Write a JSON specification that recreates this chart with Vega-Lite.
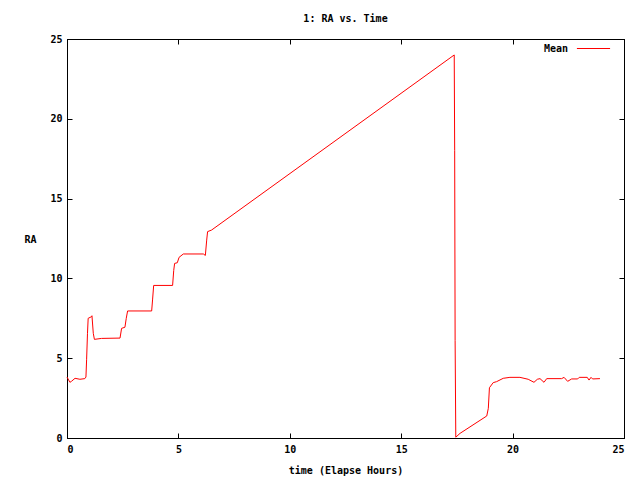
{
  "$schema": "https://vega.github.io/schema/vega-lite/v6.json",
  "width": 557,
  "height": 399,
  "autosize": {"type": "none"},
  "padding": {"left": 67, "top": 39, "right": 16, "bottom": 42},
  "background": "white",
  "title": {"text": "1: RA vs. Time", "font": "DejaVu Sans Mono", "fontSize": 10, "fontWeight": "bold", "color": "black", "offset": 7},
  "config": {
    "view": {"stroke": "black", "strokeWidth": 1},
    "axis": {"grid": false, "labelFont": "DejaVu Sans Mono", "labelFontSize": 10, "labelFontWeight": "bold", "labelColor": "black", "titleFont": "DejaVu Sans Mono", "titleFontSize": 10, "titleFontWeight": "bold", "titleColor": "black", "domainColor": "black", "tickColor": "black", "tickSize": -5, "labelPadding": 11}
  },
  "data": {"values": [
    {"t": 0.0, "ra": 3.82, "s": "Mean"},
    {"t": 0.13, "ra": 3.49, "s": "Mean"},
    {"t": 0.2, "ra": 3.55, "s": "Mean"},
    {"t": 0.36, "ra": 3.74, "s": "Mean"},
    {"t": 0.58, "ra": 3.68, "s": "Mean"},
    {"t": 0.8, "ra": 3.72, "s": "Mean"},
    {"t": 0.85, "ra": 3.82, "s": "Mean"},
    {"t": 0.88, "ra": 4.9, "s": "Mean"},
    {"t": 0.92, "ra": 6.56, "s": "Mean"},
    {"t": 0.95, "ra": 7.5, "s": "Mean"},
    {"t": 1.1, "ra": 7.6, "s": "Mean"},
    {"t": 1.12, "ra": 7.66, "s": "Mean"},
    {"t": 1.18, "ra": 6.56, "s": "Mean"},
    {"t": 1.23, "ra": 6.18, "s": "Mean"},
    {"t": 1.55, "ra": 6.24, "s": "Mean"},
    {"t": 2.38, "ra": 6.26, "s": "Mean"},
    {"t": 2.45, "ra": 6.87, "s": "Mean"},
    {"t": 2.6, "ra": 6.94, "s": "Mean"},
    {"t": 2.66, "ra": 7.5, "s": "Mean"},
    {"t": 2.72, "ra": 7.96, "s": "Mean"},
    {"t": 3.8, "ra": 7.96, "s": "Mean"},
    {"t": 3.84, "ra": 8.65, "s": "Mean"},
    {"t": 3.89, "ra": 9.56, "s": "Mean"},
    {"t": 4.74, "ra": 9.56, "s": "Mean"},
    {"t": 4.79, "ra": 10.5, "s": "Mean"},
    {"t": 4.83, "ra": 10.94, "s": "Mean"},
    {"t": 4.95, "ra": 10.98, "s": "Mean"},
    {"t": 5.03, "ra": 11.32, "s": "Mean"},
    {"t": 5.22, "ra": 11.53, "s": "Mean"},
    {"t": 6.12, "ra": 11.53, "s": "Mean"},
    {"t": 6.21, "ra": 11.44, "s": "Mean"},
    {"t": 6.27, "ra": 12.4, "s": "Mean"},
    {"t": 6.31, "ra": 12.93, "s": "Mean"},
    {"t": 6.49, "ra": 13.03, "s": "Mean"},
    {"t": 17.38, "ra": 24.0, "s": "Mean"},
    {"t": 17.4, "ra": 18.0, "s": "Mean"},
    {"t": 17.42, "ra": 6.1, "s": "Mean"},
    {"t": 17.45, "ra": 0.05, "s": "Mean"},
    {"t": 17.64, "ra": 0.29, "s": "Mean"},
    {"t": 18.84, "ra": 1.38, "s": "Mean"},
    {"t": 18.91, "ra": 1.86, "s": "Mean"},
    {"t": 18.96, "ra": 3.15, "s": "Mean"},
    {"t": 19.13, "ra": 3.47, "s": "Mean"},
    {"t": 19.28, "ra": 3.53, "s": "Mean"},
    {"t": 19.58, "ra": 3.74, "s": "Mean"},
    {"t": 19.88, "ra": 3.8, "s": "Mean"},
    {"t": 20.33, "ra": 3.8, "s": "Mean"},
    {"t": 20.7, "ra": 3.68, "s": "Mean"},
    {"t": 20.96, "ra": 3.49, "s": "Mean"},
    {"t": 21.11, "ra": 3.68, "s": "Mean"},
    {"t": 21.23, "ra": 3.72, "s": "Mean"},
    {"t": 21.41, "ra": 3.49, "s": "Mean"},
    {"t": 21.53, "ra": 3.72, "s": "Mean"},
    {"t": 22.2, "ra": 3.72, "s": "Mean"},
    {"t": 22.31, "ra": 3.8, "s": "Mean"},
    {"t": 22.47, "ra": 3.55, "s": "Mean"},
    {"t": 22.65, "ra": 3.7, "s": "Mean"},
    {"t": 22.92, "ra": 3.7, "s": "Mean"},
    {"t": 22.99, "ra": 3.8, "s": "Mean"},
    {"t": 23.35, "ra": 3.8, "s": "Mean"},
    {"t": 23.43, "ra": 3.63, "s": "Mean"},
    {"t": 23.52, "ra": 3.8, "s": "Mean"},
    {"t": 23.59, "ra": 3.7, "s": "Mean"},
    {"t": 23.92, "ra": 3.72, "s": "Mean"}
  ]},
  "resolve": {"axis": {"x": "independent", "y": "independent"}},
  "layer": [
    {
      "mark": {"type": "line", "strokeWidth": 1, "interpolate": "linear"},
      "encoding": {
        "x": {"field": "t", "type": "quantitative", "scale": {"domain": [0, 25], "nice": false}, "axis": {"orient": "bottom", "title": "time (Elapse Hours)", "values": [0, 5, 10, 15, 20, 25], "titlePadding": 11}},
        "y": {"field": "ra", "type": "quantitative", "scale": {"domain": [0, 25], "nice": false}, "axis": {"orient": "left", "title": "RA", "values": [0, 5, 10, 15, 20, 25], "titleAngle": 0, "titleX": -37, "titleY": 200, "titleAlign": "center", "titleBaseline": "middle", "labelPadding": 10}},
        "color": {"field": "s", "type": "nominal", "scale": {"range": ["#ff0000"]}, "legend": {"title": null, "orient": "none", "legendX": 509, "legendY": -8, "padding": 0, "symbolType": "stroke", "symbolSize": 1100, "symbolStrokeWidth": 1, "labelAlign": "right", "labelOffset": -43, "labelFont": "DejaVu Sans Mono", "labelFontSize": 10, "labelFontWeight": "bold", "labelColor": "black"}}
      }
    },
    {
      "mark": {"type": "line", "opacity": 0},
      "encoding": {
        "x": {"field": "t", "type": "quantitative", "axis": {"orient": "top", "labels": false, "title": null, "values": [0, 5, 10, 15, 20, 25]}},
        "y": {"field": "ra", "type": "quantitative", "axis": {"orient": "right", "labels": false, "title": null, "values": [0, 5, 10, 15, 20, 25]}}
      }
    }
  ]
}
